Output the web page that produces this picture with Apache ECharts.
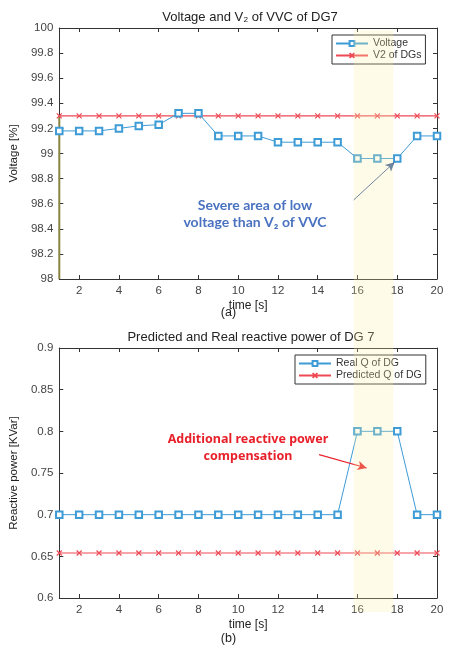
<!DOCTYPE html>
<html><head><meta charset="utf-8">
<script src="https://cdn.jsdelivr.net/npm/echarts@6/dist/echarts.min.js"></script>
<style>html,body{margin:0;padding:0;background:#fff}#c{width:457px;height:652px}</style>
</head><body><div id="c"></div>
<script>
const time = [1,2,3,4,5,6,7,8,9,10,11,12,13,14,15,16,17,18,19,20];
const voltage = [99.18,99.18,99.18,99.20,99.22,99.23,99.32,99.32,99.14,99.14,99.14,99.09,99.09,99.09,99.09,98.96,98.96,98.96,99.14,99.14];
const v2DGs = [99.3,99.3,99.3,99.3,99.3,99.3,99.3,99.3,99.3,99.3,99.3,99.3,99.3,99.3,99.3,99.3,99.3,99.3,99.3,99.3];
const realQ = [0.7,0.7,0.7,0.7,0.7,0.7,0.7,0.7,0.7,0.7,0.7,0.7,0.7,0.7,0.7,0.8,0.8,0.8,0.7,0.7];
const predQ = [0.654,0.654,0.654,0.654,0.654,0.654,0.654,0.654,0.654,0.654,0.654,0.654,0.654,0.654,0.654,0.654,0.654,0.654,0.654,0.654];
const xTicks = [2,4,6,8,10,12,14,16,18,20];
const edgeLine = [[1,99.3],[1,98]];
const bandRange = [15.81, 17.8];
const arrowA = [[15.81,98.63],[17.86,98.93]];
const arrowB = [[14.07,0.772],[16.46,0.756]];

const pair = (xs, ys) => xs.map((x,i)=>[x, ys[i]]);
const blue = '#3d9bd6', red = '#ee4a55', axisC = '#333', txt = '#444';
const FONT = 'Liberation Sans, Arial, sans-serif';
const crossSym = 'path://M0 0L10 10M10 0L0 10';

function xAx(gi, top){
  return {type:'value', gridIndex:gi, min:1, max:20, position: top?'top':'bottom',
    name: top?'':'time [s]', nameLocation:'middle', nameGap:21,
    nameTextStyle:{color:'#222', fontSize:12, fontFamily:FONT},
    axisLine:{show:true, onZero:false, lineStyle:{color:axisC}},
    axisTick:{show:true, inside:true, length:4, customValues:xTicks, lineStyle:{color:axisC}},
    axisLabel:{show:!top, customValues:xTicks, color:txt, fontSize:11.5, fontFamily:FONT, margin:6},
    splitLine:{show:false}};
}
function yAx(gi, right, min, max, interval, name, gap){
  return {type:'value', gridIndex:gi, min, max, interval, position: right?'right':'left',
    name: right?'':name, nameLocation:'middle', nameGap:gap,
    nameTextStyle:{color:'#222', fontSize:11.5, fontFamily:FONT},
    axisLine:{show:true, onZero:false, lineStyle:{color:axisC}},
    axisTick:{show:true, inside:true, length:4, lineStyle:{color:axisC}},
    axisLabel:{show:!right, color:txt, fontSize:11.5, fontFamily:FONT, margin:6},
    splitLine:{show:false}};
}
const legendStyle = {orient:'vertical', itemGap:1, itemWidth:32, itemHeight:6,
  padding:[3,4,3,3], borderColor:'#333', borderWidth:1, backgroundColor:'#fff',
  textStyle:{fontSize:10.5, color:'#333', fontFamily:FONT}};
const chart = echarts.init(document.getElementById('c'));
const option = {
  backgroundColor:'#fff',
  animation:false,
  title:[
    {text:'Voltage and V\u2082 of VVC of DG7', left:245, top:6, textAlign:'center',
     textStyle:{fontSize:13, fontWeight:'normal', color:'#222', fontFamily:FONT}},
    {text:'Predicted and Real reactive power of DG 7', left:246, top:326, textAlign:'center',
     textStyle:{fontSize:13, fontWeight:'normal', color:'#222', fontFamily:FONT}}
  ],
  grid:[
    {left:56, right:20, top:28, height:251},
    {left:56, right:20, top:348, height:250}
  ],
  legend:[
    Object.assign({data:['Voltage','V2 of DGs'], left:332, top:35}, legendStyle),
    Object.assign({data:['Real Q of DG','Predicted Q of DG'], left:295, top:355}, legendStyle)
  ],
  xAxis:[xAx(0,false), xAx(0,true), xAx(1,false), xAx(1,true)],
  yAxis:[yAx(0,false,98,100,0.2,'Voltage [%]',31), yAx(0,true,98,100,0.2,'',0),
         yAx(1,false,0.6,0.9,0.05,'Reactive power [KVar]',32), yAx(1,true,0.6,0.9,0.05,'',0)],
  series:[
    {name:'edge', type:'line', xAxisIndex:0, yAxisIndex:0, data:edgeLine, symbol:'none',
     lineStyle:{color:'#8a8440', width:2}, silent:true, z:1},
    {name:'V2 of DGs', type:'line', xAxisIndex:0, yAxisIndex:0, data:pair(time,v2DGs),
     symbol:crossSym, symbolSize:5, lineStyle:{color:red, width:1.2},
     itemStyle:{color:'transparent', borderColor:red, borderWidth:1.2}, z:2},
    {name:'Voltage', type:'line', xAxisIndex:0, yAxisIndex:0, data:pair(time,voltage),
     symbol:'emptyRect', symbolSize:6.5, lineStyle:{color:blue, width:1},
     itemStyle:{color:blue, borderWidth:1}, z:3,
     markLine:{silent:true, symbol:['none','arrow'], symbolSize:[7,9], label:{show:false},
       lineStyle:{color:'#3f5f9a', width:1, type:'solid'},
       data:[[{coord:arrowA[0]},{coord:arrowA[1]}]]}},
    {name:'Predicted Q of DG', type:'line', xAxisIndex:2, yAxisIndex:2, data:pair(time,predQ),
     symbol:crossSym, symbolSize:5, lineStyle:{color:red, width:1.2},
     itemStyle:{color:'transparent', borderColor:red, borderWidth:1.2}, z:2},
    {name:'Real Q of DG', type:'line', xAxisIndex:2, yAxisIndex:2, data:pair(time,realQ),
     symbol:'emptyRect', symbolSize:6.5, lineStyle:{color:blue, width:1},
     itemStyle:{color:blue, borderWidth:1}, z:3,
     markLine:{silent:true, symbol:['none','arrow'], symbolSize:[7,9], label:{show:false},
       lineStyle:{color:'#e8202a', width:1.2, type:'solid'},
       data:[[{coord:arrowB[0]},{coord:arrowB[1]}]]}}
  ]
};
chart.setOption(option);

const bx0 = chart.convertToPixel({xAxisIndex:0}, bandRange[0]);
const bx1 = chart.convertToPixel({xAxisIndex:0}, bandRange[1]);
chart.setOption({graphic:[
  {type:'rect', shape:{x:bx0, y:30, width:bx1-bx0, height:582}, silent:true, z:100,
   style:{fill:'rgba(250,243,170,0.26)'}},
  {type:'text', left:'center', top:306, style:{text:'(a)', fontSize:12.5, fill:'#222', fontFamily:FONT}},
  {type:'text', left:'center', top:632, style:{text:'(b)', fontSize:12.5, fill:'#222', fontFamily:FONT}},
  {type:'text', x:255, y:197, style:{text:'Severe area of low\nvoltage than V\u2082 of VVC', align:'center',
    fontSize:14, lineHeight:17, fontWeight:'bold', fill:'#4a72c0', fontFamily:'Lato, Open Sans, sans-serif'}},
  {type:'text', x:248, y:431, style:{text:'Additional reactive power\ncompensation', align:'center',
    fontSize:12.5, lineHeight:17, fontWeight:'bold', fill:'#e8202a', fontFamily:'Noto Sans, Open Sans, sans-serif'}}
]});
</script></body></html>
